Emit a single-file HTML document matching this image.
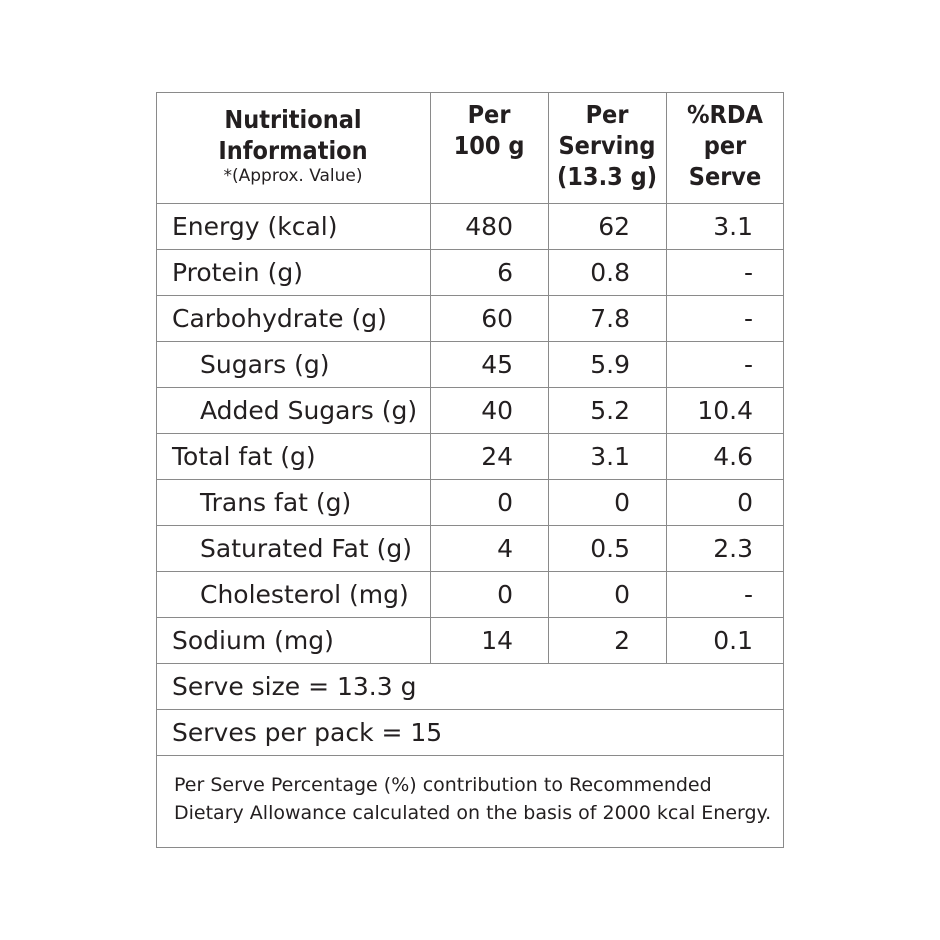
<!DOCTYPE html>
<html><head><style>
body{margin:0;width:940px;height:940px;background:#fff;position:relative;font-family:"DejaVu Sans","Liberation Sans",sans-serif;color:#231f20;overflow:hidden}
.l{position:absolute;background:#8a8a8a}
.t{position:absolute;font-size:25px;line-height:46px;white-space:nowrap}
.r{text-align:right}
.h{position:absolute;font-weight:bold;font-size:25px;line-height:31px;text-align:center;font-family:"DejaVu Sans Condensed","DejaVu Sans",sans-serif}
</style></head><body>
<div class="l" style="left:156px;top:92px;width:628px;height:1px"></div>
<div class="l" style="left:156px;top:847px;width:628px;height:1px"></div>
<div class="l" style="left:156px;top:92px;width:1px;height:756px"></div>
<div class="l" style="left:783px;top:92px;width:1px;height:756px"></div>
<div class="l" style="left:430px;top:92px;width:1px;height:572px"></div>
<div class="l" style="left:548px;top:92px;width:1px;height:572px"></div>
<div class="l" style="left:666px;top:92px;width:1px;height:572px"></div>
<div class="l" style="left:156px;top:203px;width:628px;height:1px"></div>
<div class="l" style="left:156px;top:249px;width:628px;height:1px"></div>
<div class="l" style="left:156px;top:295px;width:628px;height:1px"></div>
<div class="l" style="left:156px;top:341px;width:628px;height:1px"></div>
<div class="l" style="left:156px;top:387px;width:628px;height:1px"></div>
<div class="l" style="left:156px;top:433px;width:628px;height:1px"></div>
<div class="l" style="left:156px;top:479px;width:628px;height:1px"></div>
<div class="l" style="left:156px;top:525px;width:628px;height:1px"></div>
<div class="l" style="left:156px;top:571px;width:628px;height:1px"></div>
<div class="l" style="left:156px;top:617px;width:628px;height:1px"></div>
<div class="l" style="left:156px;top:663px;width:628px;height:1px"></div>
<div class="l" style="left:156px;top:709px;width:628px;height:1px"></div>
<div class="l" style="left:156px;top:755px;width:628px;height:1px"></div>

<div class="h" style="left:156px;top:104px;width:274px">Nutritional<br>Information<div style="font-weight:normal;font-size:17px;line-height:20px;font-family:'DejaVu Sans',sans-serif">*(Approx. Value)</div></div>
<div class="h" style="left:430px;top:99px;width:118px">Per<br>100 g</div>
<div class="h" style="left:548px;top:99px;width:118px">Per<br>Serving<br>(13.3 g)</div>
<div class="h" style="left:666px;top:99px;width:118px">%RDA<br>per<br>Serve</div>

<div class="t" style="left:172px;top:204px">Energy (kcal)</div>
<div class="t" style="left:172px;top:250px">Protein (g)</div>
<div class="t" style="left:172px;top:296px">Carbohydrate (g)</div>
<div class="t" style="left:200px;top:342px">Sugars (g)</div>
<div class="t" style="left:200px;top:388px">Added Sugars (g)</div>
<div class="t" style="left:172px;top:434px">Total fat (g)</div>
<div class="t" style="left:200px;top:480px">Trans fat (g)</div>
<div class="t" style="left:200px;top:526px">Saturated Fat (g)</div>
<div class="t" style="left:200px;top:572px">Cholesterol (mg)</div>
<div class="t" style="left:172px;top:618px">Sodium (mg)</div>
<div class="t" style="left:172px;top:664px">Serve size = 13.3 g</div>
<div class="t" style="left:172px;top:710px">Serves per pack = 15</div>

<div class="t r" style="left:430px;top:204px;width:83px;line-height:46px">480<br>6<br>60<br>45<br>40<br>24<br>0<br>4<br>0<br>14</div>
<div class="t r" style="left:548px;top:204px;width:82px">62<br>0.8<br>7.8<br>5.9<br>5.2<br>3.1<br>0<br>0.5<br>0<br>2</div>
<div class="t r" style="left:666px;top:204px;width:87px">3.1<br>-<br>-<br>-<br>10.4<br>4.6<br>0<br>2.3<br>-<br>0.1</div>

<div style="position:absolute;left:174px;top:771px;font-size:19px;line-height:28px;white-space:nowrap">Per Serve Percentage (%) contribution to Recommended<br>Dietary Allowance calculated on the basis of 2000 kcal Energy.</div>
</body></html>
